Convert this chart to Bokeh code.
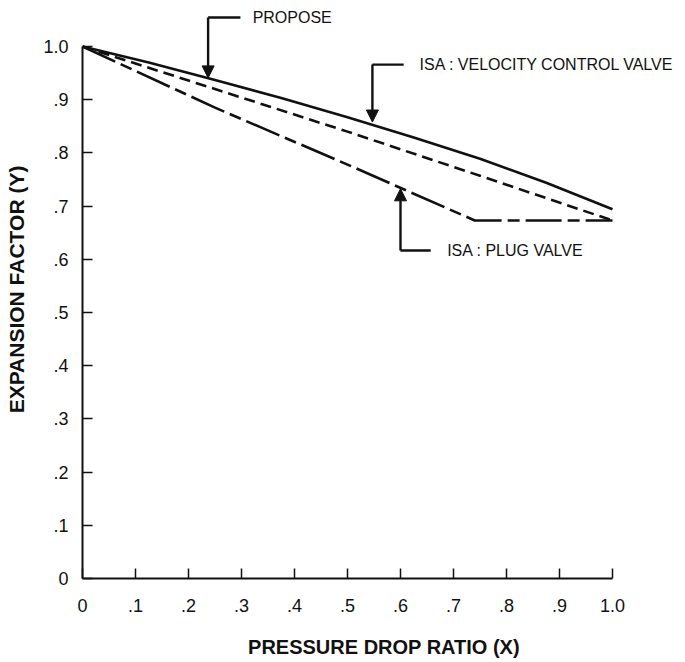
from bokeh.plotting import figure
from bokeh.models import Range1d, FixedTicker, Arrow, NormalHead
from bokeh.core.properties import value
from bokeh.embed import file_html
from bokeh.resources import INLINE

# ---- data ----
propose_x = [0.0, 0.125, 0.25, 0.375, 0.5, 0.625, 0.75, 0.875, 1.0]
propose_y = [1.0, 0.970, 0.937, 0.903, 0.867, 0.829, 0.789, 0.744, 0.694]

velocity_x = [0.0, 0.25, 0.5, 0.75, 1.0]
velocity_y = [1.0, 0.920, 0.840, 0.757, 0.673]

plug_x = [0.0, 0.25, 0.5, 0.74, 1.0]
plug_y = [1.0, 0.885, 0.778, 0.673, 0.673]

x_ticks = [0.0, 0.1, 0.2, 0.3, 0.4, 0.5, 0.6, 0.7, 0.8, 0.9, 1.0]
x_tick_labels = ["0", ".1", ".2", ".3", ".4", ".5", ".6", ".7", ".8", ".9", "1.0"]
y_ticks = [0.0, 0.1, 0.2, 0.3, 0.4, 0.5, 0.6, 0.7, 0.8, 0.9, 1.0]
y_tick_labels = ["0", ".1", ".2", ".3", ".4", ".5", ".6", ".7", ".8", ".9", "1.0"]

# callouts: label, arrow tip (x, y), elbow height, tail end x, text x
callout_labels = ["PROPOSE", "ISA : VELOCITY CONTROL VALVE", "ISA : PLUG VALVE"]
callout_tip_x = [0.237, 0.547, 0.600]
callout_tip_y = [0.941, 0.858, 0.7325]
callout_elbow_y = [1.0545, 0.966, 0.6165]
callout_tail_x = [0.298, 0.606, 0.657]
callout_text_x = [0.321, 0.636, 0.688]

FONT = "Liberation Sans"
INK = "#111111"

W, H = 685, 662
LEFT, BOTTOM = 82, 84
p = figure(width=W, height=H, output_backend="svg", toolbar_location=None,
           x_range=Range1d(0, (W - LEFT) / 530), y_range=Range1d(0, (H - BOTTOM) / 532),
           min_border_left=LEFT, min_border_right=0, min_border_top=0,
           min_border_bottom=BOTTOM)
p.outline_line_color = None
p.xgrid.visible = False
p.ygrid.visible = False
p.background_fill_color = "white"

for ax, ticks, labels in ((p.xaxis[0], x_ticks, x_tick_labels),
                          (p.yaxis[0], y_ticks, y_tick_labels)):
    ax.bounds = (0, 1)
    ax.ticker = FixedTicker(ticks=ticks, minor_ticks=[])
    ax.major_label_overrides = {t: l for t, l in zip(ticks, labels)}
    ax.major_tick_in = 10
    ax.major_tick_out = 0
    ax.minor_tick_in = 0
    ax.minor_tick_out = 0
    ax.axis_line_width = 2
    ax.axis_line_color = INK
    ax.major_tick_line_width = 1.5
    ax.major_tick_line_color = INK
    ax.major_label_text_font = FONT
    ax.major_label_text_font_size = "18px"
    ax.major_label_text_color = INK
    ax.axis_label_text_font = FONT
    ax.axis_label_text_font_style = "bold"
    ax.axis_label_text_color = INK

p.xaxis.axis_label = "PRESSURE DROP RATIO (X)"
p.yaxis.axis_label = "EXPANSION FACTOR (Y)"
p.xaxis.axis_label_text_font_size = "20px"
p.yaxis.axis_label_text_font_size = "21px"
p.xaxis.major_label_standoff = 20
p.yaxis.major_label_standoff = 14
p.xaxis.axis_label_standoff = 21
p.yaxis.axis_label_standoff = 12

# curves
p.line(propose_x, propose_y, line_width=2.6, line_color=INK)
p.line(velocity_x, velocity_y, line_width=2.6, line_color=INK, line_dash="11 6")
p.line(plug_x, plug_y, line_width=2.6, line_color=INK, line_dash="36 6 12 6")

# callouts
for lab, tx, ty, ey, tailx, textx in zip(callout_labels, callout_tip_x, callout_tip_y,
                                        callout_elbow_y, callout_tail_x, callout_text_x):
    p.line([tailx, tx], [ey, ey], line_width=2.4, line_color=INK)
    p.add_layout(Arrow(end=NormalHead(size=12, fill_color=INK, line_color=INK, line_width=1),
                       x_start=tx, y_start=ey, x_end=tx, y_end=ty,
                       line_width=2.4, line_color=INK))
    p.text(x=[textx], y=[ey], text=[lab], text_font=value(FONT),
           text_font_size="16px", text_baseline="middle", text_align="left",
           text_color=INK)

open("out.html", "w").write(file_html(p, INLINE))
